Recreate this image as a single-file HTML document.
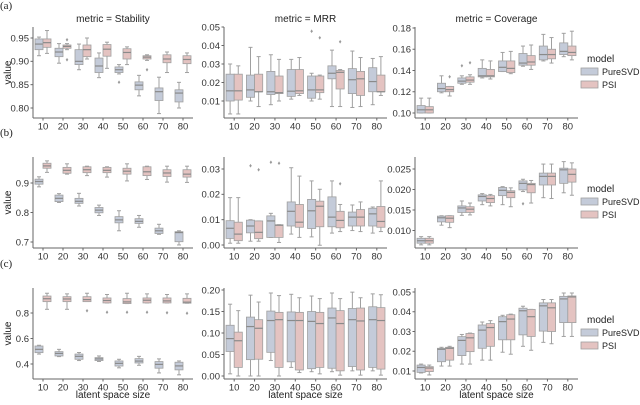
<!DOCTYPE html>
<html><head><meta charset="utf-8"><style>
body{margin:0;background:#fff;width:640px;height:400px;overflow:hidden}
svg{font-family:"Liberation Sans",sans-serif}
</style></head><body>
<svg id="s" width="640" height="400" xmlns="http://www.w3.org/2000/svg"></svg>
<script>
const S=document.getElementById('s');let h='';
const BLUE='#c4cbd9',RED='#e4c3c1',EDGE='#a0a0a0',MED='#8a8a8a';
const cols=[[33,193],[224,387],[415,578]];
const rows=[[27,118],[157,248],[288,379]];
const maps=[
 [[.95,38,.80,108],[.05,27,.01,101],[.18,28,.10,113]],
 [[.9,183,.7,242],[.03,169,0,245],[.025,169,.010,230.5]],
 [[.8,313,.4,364],[.20,290,0,376],[.05,292,.01,371]]];
const ticks=[
 [[[.80,'0.80'],[.85,'0.85'],[.90,'0.90'],[.95,'0.95']],[[.01,'0.01'],[.02,'0.02'],[.03,'0.03'],[.04,'0.04'],[.05,'0.05']],[[.10,'0.10'],[.12,'0.12'],[.14,'0.14'],[.16,'0.16'],[.18,'0.18']]],
 [[[.7,'0.7'],[.8,'0.8'],[.9,'0.9']],[[0,'0.00'],[.01,'0.01'],[.02,'0.02'],[.03,'0.03']],[[.010,'0.010'],[.015,'0.015'],[.020,'0.020'],[.025,'0.025']]],
 [[[.4,'0.4'],[.6,'0.6'],[.8,'0.8']],[[0,'0.00'],[.05,'0.05'],[.10,'0.10'],[.15,'0.15'],[.20,'0.20']],[[.01,'0.01'],[.02,'0.02'],[.03,'0.03'],[.04,'0.04'],[.05,'0.05']]]];
const D=[[
 [[[.925,.937,.948,.912,.952],[.930,.940,.948,.917,.966]],
  [[.910,.920,.928,.896,.938],[.928,.932,.935,.925,.938,[.948,.905]]],
  [[.893,.900,.925,.882,.937],[.910,.925,.935,.905,.950]],
  [[.876,.890,.907,.865,.918],[.911,.926,.936,.885,.941]],
  [[.876,.882,.888,.873,.893,[.857]],[.905,.919,.927,.893,.931]],
  [[.839,.849,.856,.826,.870],[.905,.909,.912,.902,.914,[.884]]],
  [[.816,.835,.843,.788,.866],[.897,.905,.914,.876,.920]],
  [[.813,.832,.839,.800,.855],[.895,.904,.912,.876,.918]]],
 [[[.010,.0155,.0245,.003,.030],[.0105,.0155,.0245,.003,.029]],
  [[.012,.016,.024,.010,.039],[.015,.015,.0245,.007,.034]],
  [[.0135,.015,.026,.008,.035],[.014,.0145,.0235,.010,.0325]],
  [[.0125,.0153,.027,.011,.0325],[.014,.0155,.027,.013,.0335]],
  [[.0115,.016,.0235,.010,.025,[.048]],[.0145,.016,.0235,.011,.024,[.0445]]],
  [[.022,.025,.029,.007,.0375],[.0165,.0255,.0265,.007,.027,[.0425]]],
  [[.014,.0215,.0275,.0065,.037],[.013,.022,.026,.007,.0335]],
  [[.015,.0205,.028,.008,.033],[.015,.015,.024,.013,.034]]],
 [[[.100,.103,.107,.100,.114],[.100,.103,.106,.100,.114]],
  [[.120,.123,.128,.119,.135],[.120,.122,.125,.116,.125,[.135]]],
  [[.128,.130,.133,.127,.135,[.145]],[.129,.131,.134,.127,.136,[.148]]],
  [[.134,.135,.142,.133,.150],[.134,.135,.141,.132,.149]],
  [[.139,.143,.149,.139,.157],[.138,.142,.149,.137,.158]],
  [[.145,.147,.156,.144,.163],[.145,.148,.154,.141,.164]],
  [[.150,.155,.163,.149,.174],[.151,.155,.160,.147,.171]],
  [[.155,.158,.166,.153,.175],[.154,.157,.163,.150,.177]]]
],[
 [[[.896,.905,.913,.887,.921],[.950,.958,.967,.936,.975]],
  [[.837,.848,.859,.834,.864],[.933,.943,.953,.930,.965]],
  [[.831,.838,.848,.822,.865],[.935,.945,.955,.925,.957]],
  [[.799,.808,.817,.790,.825],[.935,.943,.953,.920,.955]],
  [[.765,.775,.786,.738,.806],[.930,.940,.950,.907,.965]],
  [[.763,.770,.779,.750,.790],[.925,.938,.955,.912,.957]],
  [[.729,.738,.747,.726,.760],[.922,.934,.945,.903,.957]],
  [[.701,.732,.735,.690,.738],[.920,.930,.945,.902,.957]]],
 [[[.0026,.0066,.0096,.0007,.0187],[.0017,.0043,.009,.0007,.0187]],
  [[.0048,.0075,.0098,.0015,.010,[.0315]],[.0025,.005,.0095,.0015,.0095,[.030]]],
  [[.003,.0095,.0115,.003,.0125,[.033]],[.003,.0078,.008,.001,.008,[.0325]]],
  [[.0075,.0133,.017,.0043,.0305],[.007,.009,.016,.003,.0272]],
  [[.0065,.0135,.018,.0032,.0253],[.0072,.0153,.0173,-.0001,.022]],
  [[.0072,.011,.019,.0047,.0253],[.0068,.0097,.0133,.0053,.016,[.0245]]],
  [[.0075,.011,.013,.0057,.0158],[.0075,.011,.014,.0053,.017]],
  [[.0075,.0123,.0145,.0047,.015],[.007,.0093,.0152,.0053,.0253]]],
 [[[.0069,.0075,.0081,.0065,.0085],[.0069,.0075,.0081,.0065,.0085]],
  [[.0121,.0131,.0135,.0113,.0136],[.012,.013,.0136,.0107,.0136]],
  [[.0144,.0155,.016,.0137,.0172],[.0144,.0152,.0158,.0138,.0167]],
  [[.0172,.0183,.0187,.0163,.0190],[.0168,.0178,.0185,.0160,.0188]],
  [[.0185,.0198,.0205,.0163,.0207],[.018,.0193,.0197,.0158,.0204]],
  [[.0199,.0215,.0221,.0195,.0225,[.0167]],[.0192,.0212,.0215,.0167,.0222]],
  [[.0211,.0232,.024,.018,.0262],[.0211,.0232,.024,.0178,.0262]],
  [[.0215,.0248,.0252,.0192,.0268],[.0218,.0237,.025,.0186,.0265]]]
],[
 [[[.489,.515,.541,.478,.547],[.889,.912,.933,.829,.955]],
  [[.463,.483,.497,.458,.515],[.889,.910,.928,.829,.950]],
  [[.437,.460,.478,.427,.490],[.889,.905,.928,.890,.955,[.824]]],
  [[.427,.440,.450,.420,.463],[.879,.898,.918,.879,.945,[.811]]],
  [[.384,.405,.424,.370,.437],[.874,.887,.913,.874,.955,[.811]]],
  [[.408,.423,.442,.390,.460],[.879,.900,.918,.879,.950,[.811]]],
  [[.367,.397,.419,.330,.440],[.879,.895,.918,.879,.945,[.806]]],
  [[.354,.385,.414,.315,.424],[.877,.885,.915,.877,.950,[.803]]]],
 [[[.057,.087,.118,.005,.167],[.020,.082,.102,0,.152]],
  [[.038,.115,.137,0,.188],[.039,.111,.131,0,.172]],
  [[.055,.129,.151,.036,.193],[.020,.131,.148,0,.187]],
  [[.033,.129,.149,.020,.190],[.014,.129,.148,.008,.182]],
  [[.017,.127,.150,.010,.186],[.020,.122,.148,.005,.180]],
  [[.018,.135,.158,.010,.193],[.012,.122,.152,.002,.180]],
  [[.022,.131,.157,.012,.195],[.014,.128,.158,.002,.182]],
  [[.020,.131,.161,.012,.191],[.016,.129,.159,.002,.189]]],
 [[[.0093,.0118,.0130,.0090,.0135],[.0097,.0115,.0122,.0080,.013]],
  [[.0147,.021,.0215,.0125,.022],[.0155,.0215,.022,.0125,.0225]],
  [[.0178,.0255,.0274,.0135,.0285],[.0198,.0268,.029,.0135,.0292]],
  [[.0215,.0307,.0333,.0155,.0348],[.0225,.032,.034,.0155,.0355]],
  [[.0258,.035,.0375,.0195,.0382],[.0258,.0363,.0385,.0185,.0388]],
  [[.0283,.0405,.0418,.0225,.0428],[.0275,.0375,.0412,.0205,.0412]],
  [[.0302,.043,.0445,.0245,.0462],[.030,.042,.0445,.0238,.0462]],
  [[.0345,.0465,.0478,.0275,.0495],[.0345,.0475,.048,.0275,.0495]]]
]];
const titles=['metric = Stability','metric = MRR','metric = Coverage'];
const cats=[10,20,30,40,50,60,70,80];
const FS=9.5;
for(let r=0;r<3;r++){
 const [yt,yb]=rows[r];
 for(let c=0;c<3;c++){
  const [x0,x1]=cols[c];const m=maps[r][c];
  const Y=v=>m[1]+(v-m[0])*(m[3]-m[1])/(m[2]-m[0]);
  const sp=(x1-x0)/8;
  h+=`<line x1="${x0}" y1="${yt}" x2="${x0}" y2="${yb}" stroke="#666" stroke-width="1"/>`;
  h+=`<line x1="${x0}" y1="${yb}" x2="${x1}" y2="${yb}" stroke="#666" stroke-width="1"/>`;
  for(const [v,t] of ticks[r][c]){const y=Y(v);
   h+=`<line x1="${x0-2.5}" y1="${y}" x2="${x0}" y2="${y}" stroke="#666"/>`;
   h+=`<text x="${x0-4}" y="${y+3.3}" font-size="${FS}" text-anchor="end" fill="#333">${t}</text>`;}
  cats.forEach((k,i)=>{const cx=x0+(i+.5)*sp;
   h+=`<line x1="${cx}" y1="${yb}" x2="${cx}" y2="${yb+2.5}" stroke="#666"/>`;
   h+=`<text x="${cx}" y="${yb+11.5}" font-size="${FS}" text-anchor="middle" fill="#333">${k}</text>`;
   const bw=sp*0.4;
   D[r][c][i].forEach((b,j)=>{
    const bx=cx-sp*0.4+j*bw, mx=bx+bw/2;
    const [q1,md,q3,wl,wh,out]=b;
    const yq1=Y(q1),yq3=Y(q3);
    h+=`<line x1="${mx}" y1="${Y(wh)}" x2="${mx}" y2="${yq3}" stroke="${EDGE}"/>`;
    h+=`<line x1="${mx}" y1="${Y(wl)}" x2="${mx}" y2="${yq1}" stroke="${EDGE}"/>`;
    h+=`<line x1="${mx-bw/4}" y1="${Y(wh)}" x2="${mx+bw/4}" y2="${Y(wh)}" stroke="${EDGE}"/>`;
    h+=`<line x1="${mx-bw/4}" y1="${Y(wl)}" x2="${mx+bw/4}" y2="${Y(wl)}" stroke="${EDGE}"/>`;
    h+=`<rect x="${bx}" y="${yq3}" width="${bw}" height="${Math.max(yq1-yq3,1)}" fill="${j?RED:BLUE}" stroke="${EDGE}" stroke-width="0.8"/>`;
    h+=`<line x1="${bx}" y1="${Y(md)}" x2="${bx+bw}" y2="${Y(md)}" stroke="${MED}" stroke-width="1.2"/>`;
    (out||[]).forEach(o=>{h+=`<text x="${mx}" y="${Y(o)+2.5}" font-size="6" text-anchor="middle" fill="#999">♦</text>`;});
   });
  });
  if(r==0) h+=`<text x="${(x0+x1)/2}" y="22" font-size="10" text-anchor="middle" fill="#222">${titles[c]}</text>`;
  if(r==2) h+=`<text x="${(x0+x1)/2}" y="398" font-size="10" text-anchor="middle" fill="#222">latent space size</text>`;
 }
 const cy=(yt+yb)/2;
 h+=`<text transform="translate(11,${cy}) rotate(-90)" font-size="10" text-anchor="middle" fill="#222">value</text>`;
 const ly=yt+35;
 h+=`<text x="587" y="${ly}" font-size="10" fill="#222">model</text>`;
 h+=`<rect x="581" y="${ly+6}" width="17" height="7" fill="${BLUE}" stroke="${EDGE}" stroke-width="0.8"/>`;
 h+=`<text x="602" y="${ly+13}" font-size="9" fill="#222">PureSVD</text>`;
 h+=`<rect x="581" y="${ly+19}" width="17" height="7" fill="${RED}" stroke="${EDGE}" stroke-width="0.8"/>`;
 h+=`<text x="602" y="${ly+26}" font-size="9" fill="#222">PSI</text>`;
}
['(a)','(b)','(c)'].forEach((t,i)=>{h+=`<text x="0" y="${[9,136,267][i]}" font-family="Liberation Serif,serif" font-size="11" fill="#222">${t}</text>`;});
S.innerHTML=h;
</script>
</body></html>
